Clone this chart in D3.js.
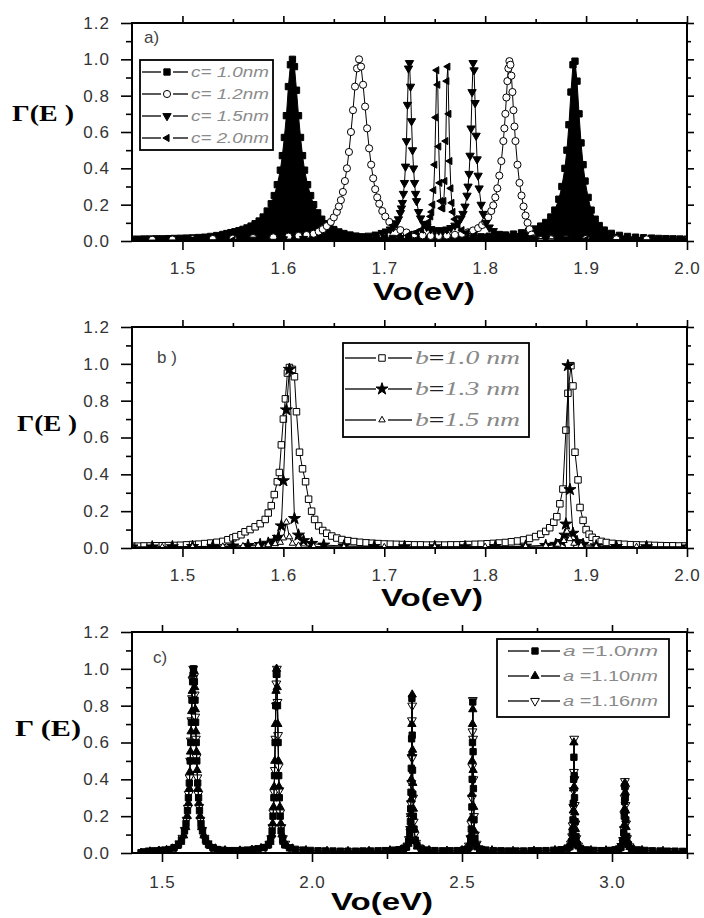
<!DOCTYPE html>
<html><head><meta charset="utf-8">
<script src="https://cdn.jsdelivr.net/npm/d3@7"></script>
<style>body{margin:0;background:#fff} svg{display:block}</style>
</head><body><svg id="chart" width="704" height="918"></svg>
<script>
// ---------------- DATA ----------------
// Panel a: transmission vs Vo for different c
const a_c10 = [[1.450,0.010],[1.456,0.010],[1.462,0.011],[1.468,0.011],[1.474,0.012],[1.480,0.012],[1.486,0.013],[1.492,0.014],[1.498,0.015],[1.504,0.016],[1.510,0.017],[1.516,0.019],[1.522,0.021],[1.528,0.025],[1.534,0.030],[1.540,0.036],[1.544,0.041],[1.548,0.046],[1.552,0.051],[1.556,0.057],[1.560,0.064],[1.564,0.072],[1.568,0.082],[1.572,0.095],[1.576,0.110],[1.580,0.132],[1.584,0.165],[1.588,0.205],[1.591,0.250],[1.594,0.310],[1.597,0.390],[1.599,0.470],[1.601,0.570],[1.603,0.690],[1.605,0.850],[1.607,0.970],[1.609,1.000],[1.611,0.960],[1.613,0.830],[1.615,0.690],[1.617,0.570],[1.619,0.470],[1.621,0.390],[1.624,0.310],[1.627,0.250],[1.630,0.200],[1.634,0.155],[1.638,0.120],[1.642,0.095],[1.646,0.077],[1.650,0.063],[1.655,0.050],[1.660,0.041],[1.666,0.033],[1.672,0.027],[1.678,0.023],[1.685,0.019],[1.692,0.017],[1.700,0.015],[1.708,0.014],[1.716,0.013],[1.724,0.013],[1.732,0.013],[1.740,0.013],[1.748,0.014],[1.756,0.015],[1.764,0.016],[1.772,0.017],[1.780,0.019],[1.788,0.021],[1.796,0.023],[1.804,0.026],[1.812,0.029],[1.820,0.033],[1.828,0.038],[1.836,0.045],[1.843,0.054],[1.849,0.066],[1.855,0.082],[1.860,0.102],[1.865,0.132],[1.869,0.170],[1.873,0.230],[1.876,0.300],[1.879,0.400],[1.881,0.500],[1.883,0.640],[1.885,0.820],[1.887,0.970],[1.889,0.990],[1.891,0.880],[1.893,0.700],[1.895,0.540],[1.897,0.420],[1.899,0.330],[1.902,0.240],[1.905,0.170],[1.909,0.120],[1.913,0.085],[1.918,0.060],[1.925,0.042],[1.933,0.031],[1.941,0.025],[1.949,0.021],[1.957,0.018],[1.965,0.016],[1.972,0.014],[1.979,0.013],[1.986,0.012],[1.993,0.011],[2.000,0.010]];
const a_c12 = [[1.450,0.006],[1.470,0.007],[1.490,0.008],[1.510,0.009],[1.530,0.011],[1.550,0.013],[1.570,0.016],[1.590,0.020],[1.605,0.024],[1.615,0.028],[1.623,0.033],[1.630,0.040],[1.635,0.052],[1.639,0.065],[1.643,0.082],[1.647,0.105],[1.650,0.130],[1.653,0.160],[1.655,0.190],[1.657,0.225],[1.659,0.270],[1.661,0.330],[1.663,0.400],[1.665,0.490],[1.667,0.600],[1.669,0.720],[1.671,0.850],[1.673,0.950],[1.675,1.000],[1.677,0.960],[1.679,0.860],[1.681,0.740],[1.683,0.620],[1.685,0.510],[1.687,0.420],[1.689,0.345],[1.691,0.285],[1.693,0.240],[1.695,0.205],[1.698,0.165],[1.701,0.135],[1.705,0.105],[1.710,0.080],[1.716,0.060],[1.722,0.047],[1.730,0.037],[1.738,0.031],[1.746,0.028],[1.754,0.028],[1.762,0.030],[1.770,0.034],[1.777,0.040],[1.783,0.048],[1.788,0.058],[1.793,0.071],[1.797,0.088],[1.800,0.106],[1.803,0.130],[1.806,0.165],[1.808,0.196],[1.810,0.240],[1.812,0.290],[1.814,0.360],[1.816,0.440],[1.818,0.550],[1.819,0.620],[1.820,0.700],[1.821,0.790],[1.822,0.880],[1.823,0.950],[1.824,0.990],[1.825,0.970],[1.826,0.910],[1.827,0.820],[1.828,0.720],[1.829,0.630],[1.830,0.550],[1.832,0.420],[1.834,0.320],[1.836,0.250],[1.838,0.190],[1.840,0.140],[1.842,0.100],[1.844,0.065],[1.846,0.035],[1.848,0.015],[1.851,0.006],[1.856,0.008],[1.865,0.010],[1.880,0.011],[1.900,0.011],[1.930,0.010],[1.960,0.009],[2.000,0.008]];
const a_c15 = [[1.450,0.004],[1.480,0.005],[1.510,0.006],[1.540,0.007],[1.570,0.008],[1.600,0.010],[1.620,0.012],[1.640,0.015],[1.660,0.019],[1.675,0.024],[1.685,0.030],[1.692,0.036],[1.698,0.045],[1.702,0.053],[1.706,0.064],[1.709,0.077],[1.712,0.098],[1.714,0.120],[1.716,0.155],[1.717,0.180],[1.718,0.210],[1.719,0.260],[1.720,0.320],[1.721,0.410],[1.722,0.550],[1.723,0.750],[1.724,0.950],[1.725,0.980],[1.726,0.850],[1.727,0.660],[1.728,0.500],[1.729,0.400],[1.730,0.320],[1.731,0.260],[1.732,0.220],[1.734,0.160],[1.736,0.125],[1.739,0.095],[1.742,0.078],[1.746,0.066],[1.750,0.060],[1.754,0.058],[1.758,0.060],[1.762,0.064],[1.766,0.072],[1.770,0.085],[1.773,0.100],[1.776,0.125],[1.778,0.150],[1.780,0.190],[1.782,0.250],[1.783,0.300],[1.784,0.370],[1.785,0.470],[1.786,0.620],[1.787,0.820],[1.788,0.980],[1.789,0.940],[1.790,0.760],[1.791,0.580],[1.792,0.450],[1.793,0.360],[1.794,0.290],[1.796,0.200],[1.798,0.150],[1.801,0.100],[1.804,0.075],[1.808,0.055],[1.813,0.040],[1.820,0.030],[1.830,0.022],[1.845,0.016],[1.860,0.013],[1.880,0.010],[1.910,0.008],[1.940,0.007],[1.970,0.006],[2.000,0.005]];
const a_c20 = [[1.450,0.003],[1.500,0.004],[1.550,0.005],[1.600,0.007],[1.650,0.010],[1.680,0.014],[1.700,0.018],[1.715,0.025],[1.725,0.035],[1.732,0.048],[1.737,0.062],[1.741,0.080],[1.744,0.105],[1.746,0.135],[1.747,0.160],[1.748,0.200],[1.749,0.280],[1.750,0.420],[1.751,0.680],[1.752,0.940],[1.753,0.860],[1.754,0.520],[1.755,0.320],[1.756,0.220],[1.757,0.180],[1.758,0.180],[1.759,0.220],[1.760,0.330],[1.761,0.550],[1.762,0.880],[1.763,0.960],[1.764,0.700],[1.765,0.440],[1.766,0.290],[1.767,0.210],[1.768,0.160],[1.770,0.120],[1.773,0.085],[1.777,0.060],[1.782,0.045],[1.790,0.032],[1.800,0.024],[1.820,0.016],[1.850,0.011],[1.900,0.008],[1.950,0.006],[2.000,0.005]];
const a_labels = ["c= 1.0nm","c= 1.2nm","c= 1.5nm","c= 2.0nm"];

// Panel b: different b
const b_10 = [[1.450,0.010],[1.456,0.010],[1.462,0.011],[1.468,0.011],[1.474,0.012],[1.480,0.012],[1.486,0.013],[1.492,0.014],[1.498,0.015],[1.504,0.017],[1.510,0.019],[1.516,0.021],[1.522,0.024],[1.528,0.027],[1.534,0.031],[1.540,0.036],[1.545,0.045],[1.550,0.055],[1.553,0.062],[1.558,0.072],[1.562,0.088],[1.567,0.100],[1.572,0.115],[1.577,0.132],[1.582,0.155],[1.585,0.190],[1.588,0.230],[1.591,0.290],[1.594,0.360],[1.596,0.410],[1.598,0.560],[1.600,0.700],[1.602,0.810],[1.604,0.950],[1.606,0.980],[1.609,0.970],[1.611,0.930],[1.613,0.740],[1.616,0.520],[1.619,0.430],[1.622,0.360],[1.625,0.265],[1.628,0.200],[1.631,0.155],[1.635,0.120],[1.639,0.095],[1.643,0.080],[1.648,0.065],[1.653,0.054],[1.658,0.046],[1.664,0.040],[1.670,0.035],[1.676,0.031],[1.682,0.028],[1.688,0.026],[1.694,0.024],[1.700,0.022],[1.706,0.021],[1.712,0.020],[1.718,0.019],[1.724,0.018],[1.730,0.017],[1.736,0.017],[1.742,0.016],[1.748,0.016],[1.754,0.016],[1.760,0.016],[1.766,0.017],[1.772,0.017],[1.778,0.018],[1.784,0.019],[1.790,0.020],[1.796,0.021],[1.802,0.023],[1.808,0.025],[1.814,0.027],[1.820,0.030],[1.826,0.034],[1.832,0.038],[1.838,0.044],[1.844,0.052],[1.850,0.062],[1.855,0.075],[1.860,0.090],[1.864,0.110],[1.868,0.140],[1.871,0.170],[1.874,0.240],[1.877,0.320],[1.880,0.640],[1.882,0.840],[1.885,0.990],[1.887,0.880],[1.889,0.520],[1.892,0.370],[1.894,0.220],[1.897,0.150],[1.900,0.100],[1.903,0.075],[1.906,0.058],[1.910,0.045],[1.915,0.036],[1.920,0.030],[1.926,0.025],[1.932,0.022],[1.938,0.020],[1.944,0.018],[1.950,0.017],[1.956,0.016],[1.962,0.015],[1.968,0.014],[1.974,0.013],[1.980,0.012],[1.986,0.012],[1.992,0.011],[1.998,0.011]];
const b_13 = [[1.450,0.006],[1.470,0.006],[1.490,0.007],[1.510,0.008],[1.530,0.009],[1.550,0.011],[1.565,0.014],[1.577,0.019],[1.585,0.026],[1.591,0.038],[1.595,0.058],[1.598,0.120],[1.600,0.365],[1.603,0.750],[1.606,0.970],[1.611,0.160],[1.615,0.070],[1.620,0.040],[1.628,0.025],[1.640,0.016],[1.660,0.011],[1.690,0.008],[1.720,0.007],[1.750,0.007],[1.780,0.007],[1.810,0.008],[1.840,0.010],[1.860,0.014],[1.870,0.020],[1.876,0.035],[1.879,0.070],[1.880,0.130],[1.882,0.990],[1.884,0.317],[1.887,0.080],[1.891,0.035],[1.897,0.020],[1.910,0.012],[1.930,0.008],[1.960,0.007],[2.000,0.006]];
const b_15 = [[1.450,0.004],[1.480,0.005],[1.510,0.006],[1.540,0.008],[1.560,0.010],[1.575,0.013],[1.585,0.017],[1.592,0.023],[1.597,0.030],[1.600,0.054],[1.603,0.140],[1.606,0.060],[1.609,0.025],[1.615,0.013],[1.630,0.008],[1.660,0.006],[1.700,0.005],[1.750,0.005],[1.800,0.006],[1.840,0.008],[1.860,0.012],[1.872,0.020],[1.878,0.040],[1.881,0.090],[1.884,0.050],[1.888,0.025],[1.895,0.013],[1.910,0.008],[1.950,0.006],[2.000,0.005]];
const b_labels = [["b","1.0 nm"],["b","1.3 nm"],["b","1.5 nm"]];

// Panel c: different a
const c_10 = [[1.430,0.002],[1.440,0.006],[1.455,0.010],[1.475,0.012],[1.495,0.014],[1.510,0.016],[1.525,0.019],[1.540,0.028],[1.555,0.046],[1.565,0.070],[1.575,0.120],[1.580,0.160],[1.585,0.230],[1.588,0.300],[1.591,0.380],[1.594,0.500],[1.596,0.600],[1.598,0.710],[1.600,0.830],[1.602,0.930],[1.605,1.000],[1.608,0.930],[1.610,0.830],[1.612,0.710],[1.614,0.600],[1.616,0.500],[1.619,0.380],[1.622,0.300],[1.625,0.230],[1.630,0.160],[1.635,0.120],[1.645,0.070],[1.655,0.046],[1.670,0.028],[1.685,0.019],[1.705,0.015],[1.725,0.013],[1.745,0.013],[1.765,0.014],[1.785,0.016],[1.805,0.019],[1.820,0.023],[1.840,0.030],[1.855,0.045],[1.862,0.070],[1.867,0.120],[1.870,0.200],[1.873,0.300],[1.875,0.420],[1.877,0.600],[1.879,0.800],[1.881,0.970],[1.883,0.970],[1.885,0.800],[1.887,0.600],[1.889,0.420],[1.891,0.300],[1.894,0.200],[1.897,0.120],[1.902,0.070],[1.909,0.045],[1.925,0.028],[1.945,0.020],[1.970,0.016],[1.995,0.014],[2.020,0.012],[2.045,0.011],[2.070,0.011],[2.095,0.010],[2.120,0.010],[2.145,0.010],[2.170,0.011],[2.195,0.011],[2.220,0.012],[2.245,0.013],[2.270,0.015],[2.290,0.018],[2.305,0.024],[2.315,0.032],[2.322,0.060],[2.326,0.110],[2.328,0.170],[2.329,0.240],[2.330,0.330],[2.331,0.460],[2.332,0.620],[2.333,0.840],[2.334,0.640],[2.335,0.450],[2.336,0.320],[2.338,0.200],[2.340,0.130],[2.344,0.070],[2.350,0.040],[2.365,0.022],[2.385,0.016],[2.410,0.013],[2.435,0.012],[2.460,0.012],[2.485,0.013],[2.505,0.016],[2.518,0.022],[2.525,0.035],[2.529,0.070],[2.531,0.130],[2.533,0.250],[2.534,0.400],[2.535,0.600],[2.536,0.820],[2.537,0.550],[2.538,0.350],[2.540,0.180],[2.543,0.080],[2.548,0.040],[2.559,0.022],[2.580,0.016],[2.605,0.013],[2.630,0.012],[2.655,0.011],[2.680,0.011],[2.705,0.011],[2.730,0.012],[2.755,0.012],[2.780,0.013],[2.805,0.015],[2.830,0.018],[2.850,0.024],[2.860,0.035],[2.865,0.060],[2.868,0.110],[2.870,0.180],[2.871,0.270],[2.872,0.400],[2.873,0.520],[2.874,0.420],[2.875,0.300],[2.877,0.170],[2.880,0.090],[2.885,0.045],[2.895,0.025],[2.915,0.017],[2.940,0.014],[2.965,0.013],[2.990,0.014],[3.010,0.017],[3.022,0.022],[3.030,0.032],[3.036,0.060],[3.039,0.110],[3.041,0.200],[3.042,0.280],[3.043,0.360],[3.044,0.300],[3.046,0.180],[3.049,0.090],[3.055,0.045],[3.065,0.025],[3.085,0.017],[3.110,0.014],[3.135,0.012],[3.160,0.011],[3.185,0.010],[3.210,0.010],[3.235,0.009],[3.260,0.009]];
const c_110 = [[1.430,0.001],[1.460,0.008],[1.490,0.012],[1.515,0.016],[1.535,0.024],[1.550,0.038],[1.562,0.060],[1.572,0.095],[1.579,0.140],[1.584,0.200],[1.588,0.270],[1.591,0.350],[1.593,0.440],[1.595,0.550],[1.597,0.660],[1.599,0.770],[1.601,0.880],[1.603,0.970],[1.606,0.990],[1.609,0.900],[1.611,0.780],[1.613,0.660],[1.615,0.550],[1.617,0.450],[1.620,0.350],[1.623,0.270],[1.627,0.200],[1.632,0.140],[1.640,0.095],[1.650,0.060],[1.662,0.038],[1.678,0.024],[1.710,0.014],[1.760,0.013],[1.800,0.017],[1.830,0.026],[1.850,0.040],[1.860,0.060],[1.866,0.100],[1.869,0.160],[1.872,0.250],[1.874,0.360],[1.876,0.500],[1.878,0.700],[1.880,0.880],[1.882,1.000],[1.884,0.900],[1.886,0.700],[1.888,0.500],[1.890,0.360],[1.893,0.250],[1.896,0.160],[1.900,0.100],[1.906,0.060],[1.915,0.040],[1.935,0.024],[1.980,0.015],[2.050,0.011],[2.120,0.010],[2.190,0.011],[2.260,0.014],[2.300,0.020],[2.312,0.030],[2.320,0.050],[2.325,0.090],[2.327,0.140],[2.329,0.210],[2.330,0.290],[2.331,0.400],[2.332,0.540],[2.333,0.700],[2.334,0.860],[2.335,0.560],[2.336,0.380],[2.338,0.240],[2.341,0.130],[2.345,0.065],[2.352,0.035],[2.390,0.015],[2.450,0.012],[2.500,0.015],[2.519,0.025],[2.527,0.050],[2.530,0.100],[2.532,0.190],[2.533,0.320],[2.534,0.500],[2.535,0.700],[2.536,0.780],[2.537,0.450],[2.539,0.250],[2.541,0.120],[2.545,0.060],[2.553,0.030],[2.600,0.014],[2.670,0.011],[2.740,0.012],[2.810,0.015],[2.852,0.028],[2.862,0.045],[2.866,0.080],[2.869,0.140],[2.871,0.230],[2.872,0.350],[2.873,0.600],[2.874,0.360],[2.876,0.220],[2.878,0.130],[2.882,0.070],[2.890,0.035],[2.930,0.015],[2.980,0.014],[3.025,0.026],[3.033,0.045],[3.037,0.080],[3.040,0.150],[3.042,0.240],[3.043,0.380],[3.044,0.330],[3.045,0.230],[3.047,0.140],[3.051,0.070],[3.060,0.032],[3.100,0.015],[3.170,0.011],[3.250,0.009]];
const c_116 = [[1.440,0.004],[1.470,0.010],[1.500,0.014],[1.530,0.021],[1.545,0.032],[1.558,0.052],[1.568,0.082],[1.576,0.125],[1.582,0.180],[1.586,0.245],[1.589,0.320],[1.592,0.410],[1.594,0.500],[1.596,0.610],[1.598,0.720],[1.600,0.840],[1.602,0.940],[1.604,1.000],[1.607,0.960],[1.609,0.860],[1.611,0.740],[1.613,0.620],[1.615,0.520],[1.618,0.410],[1.621,0.320],[1.624,0.250],[1.628,0.180],[1.634,0.125],[1.642,0.082],[1.652,0.052],[1.665,0.032],[1.682,0.021],[1.730,0.013],[1.780,0.015],[1.820,0.020],[1.845,0.032],[1.858,0.050],[1.864,0.080],[1.868,0.140],[1.871,0.220],[1.874,0.330],[1.876,0.450],[1.878,0.620],[1.880,0.800],[1.881,0.920],[1.883,1.000],[1.885,0.820],[1.887,0.640],[1.889,0.470],[1.891,0.340],[1.894,0.220],[1.898,0.140],[1.903,0.080],[1.911,0.050],[1.925,0.030],[1.960,0.016],[2.030,0.012],[2.100,0.010],[2.170,0.011],[2.240,0.013],[2.280,0.017],[2.310,0.026],[2.318,0.040],[2.323,0.075],[2.327,0.130],[2.329,0.200],[2.330,0.270],[2.331,0.380],[2.332,0.520],[2.333,0.720],[2.334,0.800],[2.335,0.520],[2.337,0.300],[2.339,0.170],[2.342,0.100],[2.347,0.055],[2.357,0.030],[2.400,0.014],[2.470,0.013],[2.512,0.020],[2.523,0.040],[2.528,0.080],[2.531,0.160],[2.533,0.300],[2.534,0.470],[2.535,0.660],[2.536,0.830],[2.537,0.620],[2.538,0.400],[2.540,0.200],[2.543,0.100],[2.549,0.050],[2.562,0.022],[2.630,0.012],[2.700,0.011],[2.770,0.012],[2.830,0.017],[2.855,0.030],[2.863,0.050],[2.867,0.090],[2.869,0.150],[2.871,0.250],[2.872,0.340],[2.873,0.440],[2.874,0.620],[2.875,0.400],[2.876,0.260],[2.878,0.160],[2.881,0.080],[2.887,0.040],[2.950,0.014],[3.000,0.016],[3.020,0.020],[3.031,0.038],[3.037,0.070],[3.040,0.130],[3.041,0.210],[3.042,0.300],[3.043,0.390],[3.044,0.350],[3.045,0.260],[3.047,0.160],[3.050,0.080],[3.058,0.036],[3.120,0.012],[3.190,0.010],[3.250,0.009]];
const c_labels = [["a"," =1.0","nm"],["a"," =1.10","nm"],["a"," =1.16","nm"]];

// Axis ticks
const xMajorAB = [1.5,1.6,1.7,1.8,1.9,2.0];
const xMinorAB = [1.55,1.65,1.75,1.85,1.95];
const xMajorC = [1.5,2.0,2.5,3.0];
const xMinorC = [1.75,2.25,2.75,3.25];
const yMajor = [0,0.2,0.4,0.6,0.8,1.0,1.2];
const yMinor = [0.1,0.3,0.5,0.7,0.9,1.1];

// ---------------- DRAWING ----------------
const svg = d3.select("#chart");
const SANS = "'Liberation Sans', Arial, Helvetica, sans-serif";
const SERIF = "'Liberation Serif', 'Times New Roman', serif";
const X0 = 132, X1 = 687;

function markerPath(type) {
  const m = {
    sqF:{t:d3.symbolSquare,s:40,r:0,f:true},
    sqO:{t:d3.symbolSquare,s:42,r:0,f:false},
    circO:{t:d3.symbolCircle,s:40,r:0,f:false},
    triDF:{t:d3.symbolTriangle,s:30,r:180,f:true},
    triLF:{t:d3.symbolTriangle,s:22,r:-90,f:true},
    triUF:{t:d3.symbolTriangle,s:30,r:0,f:true},
    triDO:{t:d3.symbolTriangle,s:34,r:180,f:false},
    triUO:{t:d3.symbolTriangle,s:18,r:0,f:false},
    starF:{t:d3.symbolStar,s:45,r:0,f:true}
  }[type];
  return {d:d3.symbol().type(m.t).size(m.s)(), r:m.r, f:m.f};
}

let clipId = 0;
function panel(cfg) {
  const x = d3.scaleLinear().domain(cfg.xDomain).range([X0, X1]);
  const y = d3.scaleLinear().domain([0, 1.2]).range([cfg.bottom, cfg.top]);
  const g = svg.append("g");
  const id = "clip" + (clipId++);
  g.append("clipPath").attr("id", id).append("rect")
    .attr("x", X0).attr("y", cfg.top).attr("width", X1 - X0).attr("height", cfg.bottom - cfg.top);
  const plot = g.append("g").attr("clip-path", `url(#${id})`);

  const order = cfg.order || cfg.series.map((d, i) => i);
  order.forEach(k => {
    const s = cfg.series[k];
    if (s.fill) {
      plot.append("path").datum(s.data)
        .attr("d", d3.area().x(d => x(d[0])).y0(y(0)).y1(d => y(d[1])))
        .attr("fill", "#000");
    }
    plot.append("path").datum(s.data)
      .attr("d", d3.line().x(d => x(d[0])).y(d => y(d[1])))
      .attr("fill", "none").attr("stroke", "#000").attr("stroke-width", 1);
    const mk = markerPath(s.marker);
    plot.append("g").selectAll("path").data(s.data).join("path")
      .attr("transform", d => `translate(${x(d[0])},${y(d[1])}) rotate(${mk.r})`)
      .attr("d", mk.d)
      .attr("fill", mk.f ? "#000" : "#fff")
      .attr("stroke", "#000").attr("stroke-width", 1);
  });

  // axes
  const styleAxis = (sel) => {
    sel.select(".domain").remove();
    sel.selectAll("line").attr("stroke", "#000").attr("stroke-width", 1.6);
    sel.selectAll("text").attr("font-family", SANS).attr("font-size", 17)
      .attr("fill", "#333").attr("letter-spacing", "1px");
  };
  const fmt = d3.format(".1f");
  g.append("g").attr("transform", `translate(0,${cfg.bottom})`)
    .call(d3.axisBottom(x).tickValues(cfg.xMajor).tickSize(9).tickFormat(fmt))
    .call(styleAxis)
    .call(s => s.selectAll("text").attr("y", cfg.xLabelOff).attr("dy", "0.71em"));
  g.append("g").attr("transform", `translate(0,${cfg.bottom})`)
    .call(d3.axisBottom(x).tickValues(cfg.xMinor).tickSize(6).tickFormat(""))
    .call(styleAxis);
  g.append("g").attr("transform", `translate(0,${cfg.top})`)
    .call(d3.axisTop(x).tickValues(cfg.xMajor).tickSize(7).tickFormat(""))
    .call(styleAxis);
  g.append("g").attr("transform", `translate(0,${cfg.top})`)
    .call(d3.axisTop(x).tickValues(cfg.xMinor).tickSize(4).tickFormat(""))
    .call(styleAxis);
  g.append("g").attr("transform", `translate(${X0},0)`)
    .call(d3.axisLeft(y).tickValues(yMajor).tickSize(11).tickFormat(fmt))
    .call(styleAxis)
    .call(s => s.selectAll("text").attr("x", -22));
  g.append("g").attr("transform", `translate(${X0},0)`)
    .call(d3.axisLeft(y).tickValues(yMinor).tickSize(6).tickFormat(""))
    .call(styleAxis);
  g.append("g").attr("transform", `translate(${X1},0)`)
    .call(d3.axisRight(y).tickValues(yMajor).tickSize(7).tickFormat(""))
    .call(styleAxis);
  g.append("g").attr("transform", `translate(${X1},0)`)
    .call(d3.axisRight(y).tickValues(yMinor).tickSize(4).tickFormat(""))
    .call(styleAxis);
  g.append("rect").attr("x", X0).attr("y", cfg.top).attr("width", X1 - X0)
    .attr("height", cfg.bottom - cfg.top).attr("fill", "none")
    .attr("stroke", "#000").attr("stroke-width", 2);

  // titles
  g.append("text").attr("x", cfg.xTitle[0]).attr("y", cfg.xTitle[1])
    .attr("text-anchor", "middle").attr("font-family", SANS).attr("font-weight", "bold")
    .attr("font-size", 23).attr("textLength", 102).attr("lengthAdjust", "spacingAndGlyphs")
    .text(cfg.xTitleText);
  g.append("text").attr("x", cfg.yTitle[0]).attr("y", cfg.yTitle[1])
    .attr("font-family", SERIF).attr("font-weight", "bold")
    .attr("font-size", 23).attr("textLength", cfg.yTitle[2]).attr("lengthAdjust", "spacingAndGlyphs")
    .text(cfg.yTitleText);
  g.append("text").attr("x", cfg.tag[0]).attr("y", cfg.tag[1])
    .attr("font-family", SANS).attr("font-size", 17).attr("fill", "#444")
    .text(cfg.tagText);

  // legend
  const L = cfg.legend;
  g.append("rect").attr("x", L.box[0]).attr("y", L.box[1]).attr("width", L.box[2]).attr("height", L.box[3])
    .attr("fill", "#fff").attr("stroke", "#000").attr("stroke-width", 1.8);
  cfg.series.forEach((s, i) => {
    const yy = L.rows[i];
    const gap = 6;
    g.append("line").attr("x1", L.line[0]).attr("x2", L.mark - gap).attr("y1", yy).attr("y2", yy)
      .attr("stroke", "#000").attr("stroke-width", 1.3);
    g.append("line").attr("x1", L.mark + gap).attr("x2", L.line[1]).attr("y1", yy).attr("y2", yy)
      .attr("stroke", "#000").attr("stroke-width", 1.3);
    const mk = markerPath(s.marker);
    g.append("path").attr("transform", `translate(${L.mark},${yy}) rotate(${mk.r})`)
      .attr("d", mk.d).attr("fill", mk.f ? "#000" : "#fff").attr("stroke", "#000").attr("stroke-width", 1);
    L.text(g.append("text").attr("x", L.textX).attr("y", yy + L.dy), i);
  });
}

panel({
  xDomain:[1.45, 2.0], top:23, bottom:241, xMajor:xMajorAB, xMinor:xMinorAB, xLabelOff:21,
  xTitle:[424, 300], xTitleText:"Vo(eV)", yTitle:[12, 121, 62], yTitleText:"Γ(E )",
  tag:[144, 43], tagText:"a)",
  series:[
    {data:a_c10, marker:"sqF", fill:true},
    {data:a_c12, marker:"circO"},
    {data:a_c15, marker:"triDF"},
    {data:a_c20, marker:"triLF"}
  ],
  legend:{box:[140,60,133,90], rows:[72,94,116,138], line:[142,188], mark:167, textX:191, dy:5,
    text:(t,i)=>t.attr("font-family",SANS).attr("font-style","italic").attr("font-size",14)
      .attr("fill","#8a8a8a").attr("textLength",78).attr("lengthAdjust","spacingAndGlyphs").text(a_labels[i])}
});

panel({
  xDomain:[1.45, 2.0], top:327, bottom:548, xMajor:xMajorAB, xMinor:xMinorAB, xLabelOff:21,
  xTitle:[432, 606], xTitleText:"Vo(eV)", yTitle:[17, 431, 60], yTitleText:"Γ(E )",
  tag:[157, 363], tagText:"b )",
  series:[
    {data:b_10, marker:"sqO"},
    {data:b_13, marker:"starF"},
    {data:b_15, marker:"triUO"}
  ],
  legend:{box:[343,343,186,94], rows:[358,389,420], line:[345,412], mark:382, textX:415, dy:6,
    text:(t,i)=>{
      t.attr("font-family",SERIF).attr("font-style","italic").attr("font-size",18).attr("fill","#888")
       .attr("textLength",105).attr("lengthAdjust","spacingAndGlyphs");
      t.append("tspan").text(b_labels[i][0]);
      t.append("tspan").attr("fill","#222").attr("font-weight","bold").attr("font-style","normal").text("=");
      t.append("tspan").text(b_labels[i][1]);
    }}
});

panel({
  xDomain:[1.4, 3.25], top:632, bottom:853, xMajor:xMajorC, xMinor:xMinorC, xLabelOff:23,
  xTitle:[382, 910], xTitleText:"Vo(eV)", yTitle:[15, 736, 66], yTitleText:"Γ (E)",
  tag:[153, 663], tagText:"c)",
  order:[2, 1, 0],
  series:[
    {data:c_10, marker:"sqF"},
    {data:c_110, marker:"triUF"},
    {data:c_116, marker:"triDO"}
  ],
  legend:{box:[497,639,172,78], rows:[651,676,701], line:[508,560], mark:535, textX:563, dy:5,
    text:(t,i)=>{
      t.attr("font-family",SANS).attr("font-size",15).attr("fill","#8a8a8a")
       .attr("textLength",95).attr("lengthAdjust","spacingAndGlyphs");
      t.append("tspan").attr("font-style","italic").text(c_labels[i][0]);
      t.append("tspan").text(c_labels[i][1]);
      t.append("tspan").attr("font-style","italic").text(c_labels[i][2]);
    }}
});
</script></body></html>
